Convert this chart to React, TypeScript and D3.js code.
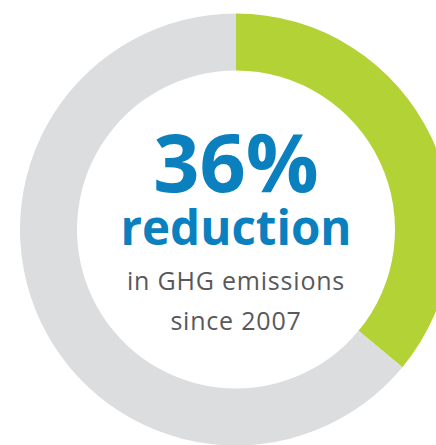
import React from "react";
import * as d3 from "d3";

const segments = ["Reduction", "Remaining"];
const values = [36, 64];
const colors = ["#b3d235", "#dcdddf"];
const headline = "36%";
const subhead = "reduction";
const lines = ["in GHG emissions", "since 2007"];

const W = 436;
const H = 445;
const cx = 236;
const cy = 229.5;
const outerR = 216;
const innerR = 159;

export default function App() {
  const pie = d3.pie<number>().sort(null).value((d) => d).startAngle(0).endAngle(2 * Math.PI);
  const arcs = pie(values);
  const arc = d3.arc<d3.PieArcDatum<number>>().innerRadius(innerR).outerRadius(outerR);
  return (
    <svg width={W} height={H} style={{ position: "absolute", left: 0, top: 0, background: "#fff" }}>
      <g transform={`translate(${cx},${cy})`}>
        {arcs.map((a, i) => (
          <path key={segments[i]} d={arc(a) || ""} fill={colors[i]} />
        ))}
        <text x={0} y={-38} textAnchor="middle" fontFamily="'Open Sans', sans-serif" fontWeight={700} fontSize={81} fill="#0a80bf">{headline}</text>
        <text x={0} y={15.5} textAnchor="middle" fontFamily="'Open Sans', sans-serif" fontWeight={700} fontSize={47.5} fill="#0a80bf">{subhead}</text>
        <text x={0} y={60.5} textAnchor="middle" fontFamily="'Open Sans', sans-serif" fontWeight={400} fontSize={25} letterSpacing={0.8} fill="#58595b">{lines[0]}</text>
        <text x={0} y={100.5} textAnchor="middle" fontFamily="'Open Sans', sans-serif" fontWeight={400} fontSize={25} letterSpacing={0.8} fill="#58595b">{lines[1]}</text>
      </g>
    </svg>
  );
}
